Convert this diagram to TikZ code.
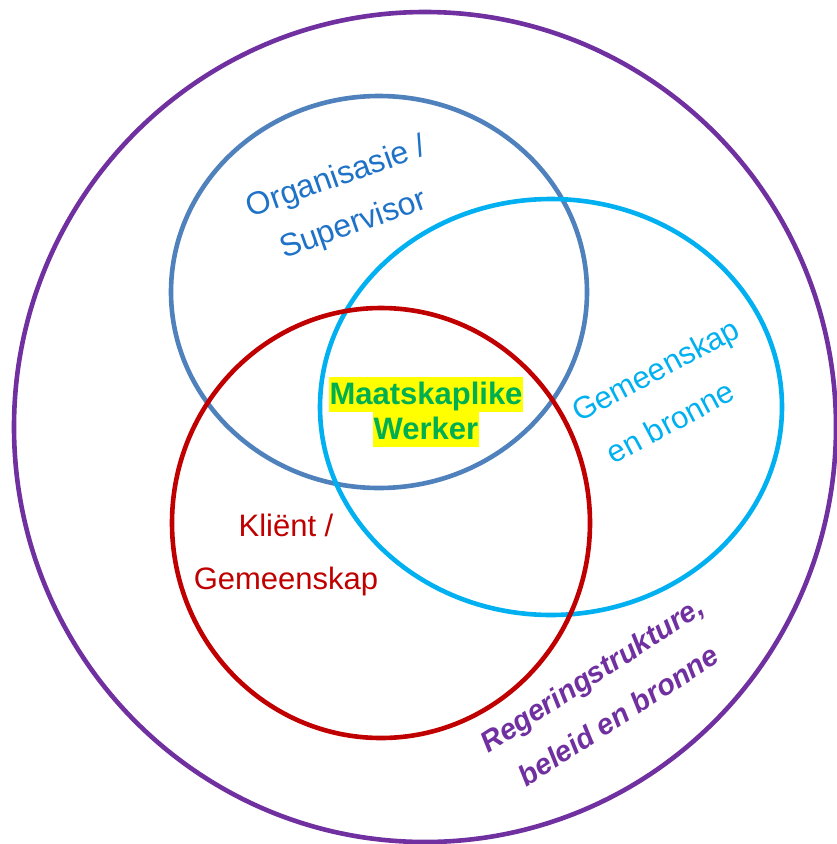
\documentclass[tikz,border=0pt]{standalone}
\usepackage{fontspec}
\setmainfont{Liberation Sans}
\definecolor{cpurple}{RGB}{112,48,160}
\definecolor{cblue}{RGB}{79,129,189}
\definecolor{cbluetext}{RGB}{30,115,200}
\definecolor{ccyan}{RGB}{0,176,240}
\definecolor{cred}{RGB}{192,0,0}
\definecolor{cgreen}{RGB}{0,176,80}
\definecolor{hlyellow}{RGB}{255,255,0}
\newcommand\mwhl[1]{{\setlength{\fboxsep}{0pt}\colorbox{hlyellow}{\rule[-8pt]{0pt}{35pt}\hspace{1pt}#1\hspace{1pt}}}}
\begin{document}
\begin{tikzpicture}[x=1pt,y=-1pt,
  ring/.style={line width=4.6pt},
  lbl/.style={inner sep=0pt,align=center}]
\useasboundingbox (0,0) rectangle (837,844);
\fill[white] (0,0) rectangle (837,844);
\draw[ring,cpurple] (425,427) ellipse [x radius=411,y radius=415];
\draw[ring,cblue] (379,292) ellipse [x radius=208,y radius=196];
\draw[ring,ccyan] (551,407) ellipse [x radius=231,y radius=208];
\draw[ring,cred] (381,523) ellipse [x radius=209,y radius=215];
\node[lbl,text=cbluetext,rotate=19.5,font=\fontsize{32}{50}\selectfont] (org) at (345,202) {Organisasie /\\Supervisor};
\node[lbl,align=left,text=ccyan,rotate=28,font=\fontsize{31}{53}\selectfont] (gem) at (668,393) {Gemeenskap\\\hspace{11pt}en bronne};
\node[lbl,text=cred,font=\fontsize{31}{53}\selectfont] (kli) at (286,555.4) {Kliënt /\\Gemeenskap};
\node[lbl,text=cgreen,font=\fontsize{31}{35}\bfseries\selectfont] (mw) at (426,412) {\mwhl{Maatskaplike}\\\mwhl{Werker}};
\node[lbl,text=cpurple,rotate=33,font=\fontsize{29}{49}\bfseries\itshape\selectfont] (reg) at (605,695) {Regeringstrukture,\\beleid en bronne};
\end{tikzpicture}
\end{document}
